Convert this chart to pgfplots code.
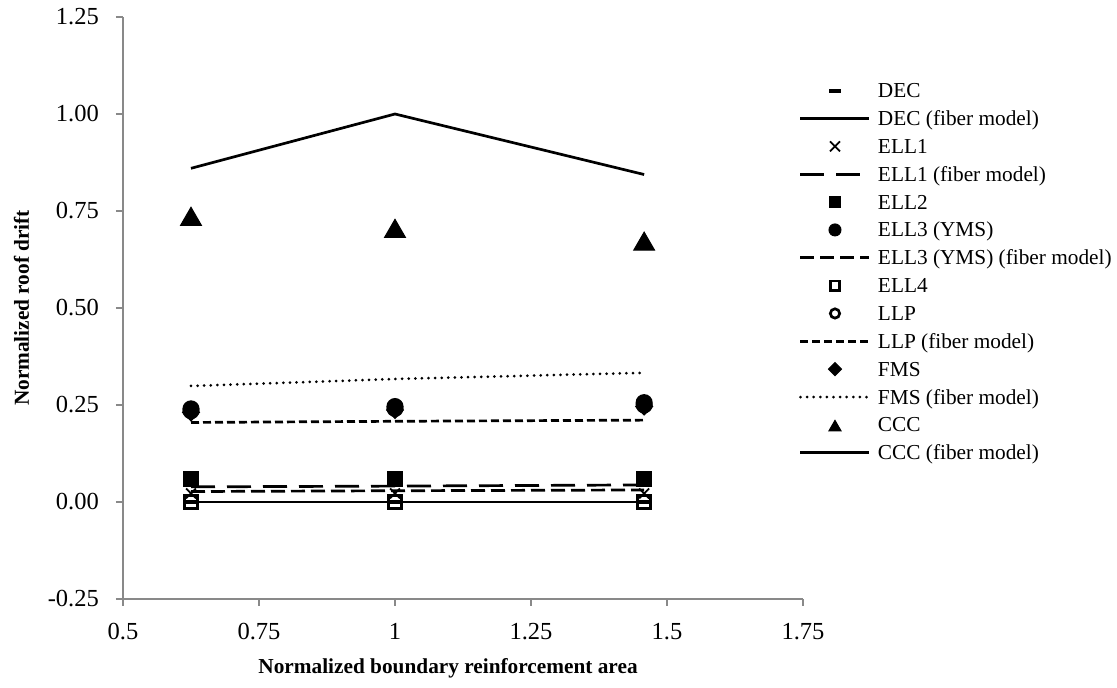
\documentclass[border=0pt]{standalone}
\usepackage{fontspec}
\setmainfont{Liberation Serif}
\usepackage{pgfplots}
\pgfplotsset{compat=1.18}
\definecolor{axgray}{HTML}{898989}
\begin{document}
\begin{tikzpicture}[x=1pt,y=1pt]
\path[use as bounding box] (0,0) rectangle (1117,688);
\begin{axis}[
  at={(123pt,89pt)}, anchor=south west,
  scale only axis, width=680pt, height=582pt,
  xmin=0.5, xmax=1.75, ymin=-0.25, ymax=1.25,
  xtick={0.5,0.75,1,1.25,1.5,1.75},
  ytick={-0.25,0,0.25,0.5,0.75,1,1.25},
  axis lines=left,
  axis line style={-, axgray, line width=1.3pt},
  tick align=outside, major tick length=7pt,
  tick style={axgray, line width=1.3pt},
  /pgf/number format/assume math mode=true,
  ticklabel style={font=\fontsize{24.5}{28}\selectfont, inner sep=0pt, text=black},
  yticklabel style={/pgf/number format/.cd, fixed, fixed zerofill, precision=2},
  xticklabel shift=17.4pt,
  yticklabel shift=17pt,
  xlabel={Normalized boundary reinforcement area},
  xlabel style={at={(axis description cs:0.478,0)}, anchor=base, yshift=-75pt,
    font=\fontsize{21.3}{25}\selectfont\bfseries, inner sep=0pt},
  ylabel={Normalized roof drift},
  ylabel style={at={(axis description cs:-0.13824,0.5)}, anchor=base,
    font=\fontsize{21.3}{25}\selectfont\bfseries, inner sep=0pt},
  legend image code/.code={\draw[mark repeat=2,mark phase=2,#1] plot coordinates {(0pt,0pt) (34.5pt,0pt) (69pt,0pt)};},
  legend cell align=left,
  legend style={at={(0.9941,0.8923)}, anchor=north west, draw=none, fill=none,
    inner sep=0pt, outer sep=0pt, row sep=5.85pt, column sep=7pt,
    font=\fontsize{21.3}{25}\selectfont,
    nodes={inner sep=0pt, text height=18pt, text depth=4pt}},
]
% DEC
\addplot[only marks, mark=-, mark size=6pt, mark options={line width=4pt}]
  coordinates {(0.625,0) (1,0) (1.458,0)};
\addlegendentry{DEC}
\addplot[black, line width=2.7pt]
  coordinates {(0.625,0) (1,0) (1.458,0)};
\addlegendentry{DEC (fiber model)}
% ELL1
\addplot[only marks, mark=x, mark size=7pt, mark options={line width=1.8pt}]
  coordinates {(0.625,0.022) (1,0.022) (1.458,0.022)};
\addlegendentry{ELL1}
\addplot[black, line width=2.7pt, dash pattern=on 24pt off 12pt]
  coordinates {(0.625,0.039) (1,0.041) (1.458,0.044)};
\addlegendentry{ELL1 (fiber model)}
% ELL2
\addplot[only marks, mark=square*, mark size=7.5pt, mark options={line width=1pt},
  legend image post style={mark size=5.5pt}]
  coordinates {(0.625,0.06) (1,0.06) (1.458,0.06)};
\addlegendentry{ELL2}
% ELL3
\addplot[only marks, mark=*, mark size=8pt, mark options={line width=1pt},
  legend image post style={mark size=6pt}]
  coordinates {(0.625,0.235) (1,0.241) (1.458,0.250)};
\addlegendentry{ELL3 (YMS)}
\addplot[black, line width=2.7pt, dash pattern=on 14pt off 6pt]
  coordinates {(0.625,0.027) (1,0.029) (1.458,0.031)};
\addlegendentry{ELL3 (YMS) (fiber model)}
% ELL4
\addplot[only marks, mark=square, mark size=6.6pt, mark options={line width=2.7pt},
  legend image post style={mark size=4.65pt}]
  coordinates {(0.625,0) (1,0) (1.458,0)};
\addlegendentry{ELL4}
% LLP
\addplot[only marks, mark=o, mark size=7.2pt, mark options={line width=2.7pt},
  legend image post style={mark size=4.65pt}]
  coordinates {(0.625,0.240) (1,0.246) (1.458,0.256)};
\addlegendentry{LLP}
\addplot[black, line width=2.7pt, dash pattern=on 8pt off 4pt]
  coordinates {(0.625,0.205) (1,0.208) (1.458,0.211)};
\addlegendentry{LLP (fiber model)}
% FMS
\addplot[only marks, mark=square*, mark size=6pt, mark options={rotate=45, line width=1pt},
  legend image post style={mark size=4.6pt}]
  coordinates {(0.625,0.231) (1,0.237) (1.458,0.246)};
\addlegendentry{FMS}
\addplot[black, line width=3pt, line cap=round, dash pattern=on 0pt off 6.6pt]
  coordinates {(0.625,0.299) (1,0.317) (1.458,0.333)};
\addlegendentry{FMS (fiber model)}
% CCC
\addplot[only marks, mark=triangle*, mark size=12pt, mark options={line width=1pt, yshift=-2.5pt},
  legend image post style={mark size=7pt}]
  coordinates {(0.625,0.735) (1,0.704) (1.458,0.671)};
\addlegendentry{CCC}
\addplot[black, line width=2.7pt]
  coordinates {(0.625,0.86) (1,1.0) (1.458,0.844)};
\addlegendentry{CCC (fiber model)}
\end{axis}
\end{tikzpicture}
\end{document}
